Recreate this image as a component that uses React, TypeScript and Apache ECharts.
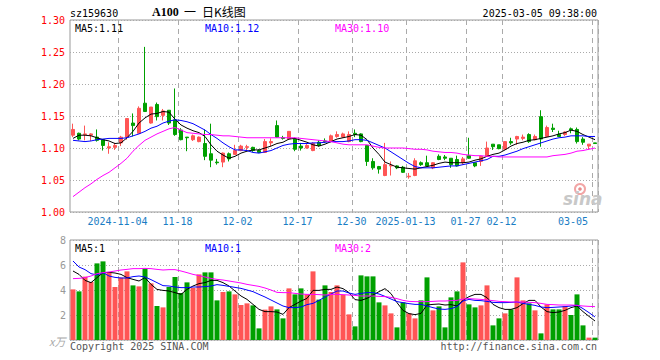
import React, { useEffect, useRef } from 'react';
import * as echarts from 'echarts';

const dates = [
  '2024-10-23','2024-10-24','2024-10-25','2024-10-28','2024-10-29','2024-10-30','2024-10-31','2024-11-01',
  '2024-11-04','2024-11-05','2024-11-06','2024-11-07','2024-11-08','2024-11-11','2024-11-12','2024-11-13','2024-11-14','2024-11-15',
  '2024-11-18','2024-11-19','2024-11-20','2024-11-21','2024-11-22','2024-11-25','2024-11-26','2024-11-27','2024-11-28','2024-11-29',
  '2024-12-02','2024-12-03','2024-12-04','2024-12-05','2024-12-06','2024-12-09','2024-12-10','2024-12-11','2024-12-12','2024-12-13',
  '2024-12-17','2024-12-18','2024-12-19','2024-12-20','2024-12-23','2024-12-24','2024-12-25','2024-12-26','2024-12-27',
  '2024-12-30','2024-12-31','2025-01-02','2025-01-03','2025-01-06','2025-01-07','2025-01-08','2025-01-09','2025-01-10',
  '2025-01-13','2025-01-14','2025-01-15','2025-01-16','2025-01-17','2025-01-20','2025-01-21','2025-01-22','2025-01-23','2025-01-24',
  '2025-01-27','2025-02-05','2025-02-06','2025-02-07','2025-02-10','2025-02-11',
  '2025-02-12','2025-02-13','2025-02-14','2025-02-17','2025-02-18','2025-02-19','2025-02-20','2025-02-21','2025-02-24','2025-02-25',
  '2025-02-26','2025-02-27','2025-02-28','2025-03-03','2025-03-04','2025-03-05'
];

const opens = [
  1.120,1.123,1.121,1.120,1.117,1.113,1.100,1.101,1.108,1.117,
  1.139,1.123,1.170,1.139,1.168,1.151,1.159,1.144,1.128,1.117,
  1.113,1.110,1.107,1.091,1.078,1.078,1.091,1.090,1.096,1.101,
  1.101,1.096,1.093,1.108,1.135,1.116,1.114,1.114,1.103,1.100,
  1.096,1.109,1.111,1.110,1.118,1.117,1.110,1.123,1.122,1.104,
  1.079,1.071,1.057,1.072,1.072,1.070,1.055,1.057,1.077,1.077,
  1.069,1.087,1.086,1.084,1.082,1.077,1.088,1.077,1.079,1.087,
  1.106,1.105,1.098,1.110,1.114,1.115,1.121,1.113,1.149,1.118,
  1.131,1.121,1.121,1.130,1.129,1.114,1.103,1.108
];
const closes = [
  1.129,1.114,1.122,1.122,1.112,1.104,1.102,1.104,1.117,1.146,
  1.135,1.162,1.157,1.164,1.149,1.158,1.139,1.121,1.113,1.116,
  1.119,1.117,1.087,1.081,1.077,1.092,1.083,1.096,1.103,1.102,
  1.096,1.093,1.110,1.110,1.117,1.115,1.126,1.098,1.100,1.104,
  1.107,1.104,1.110,1.119,1.121,1.122,1.121,1.121,1.110,1.079,
  1.069,1.067,1.074,1.073,1.069,1.062,1.056,1.080,1.074,1.072,
  1.077,1.082,1.084,1.074,1.072,1.083,1.084,1.072,1.087,1.100,
  1.102,1.099,1.110,1.108,1.118,1.117,1.110,1.118,1.114,1.132,
  1.129,1.118,1.125,1.128,1.110,1.109,1.106,1.107
];
const lows = [
  1.117,1.112,1.112,1.111,1.110,1.096,1.091,1.097,1.103,1.113,
  1.118,1.123,1.157,1.138,1.143,1.143,1.136,1.119,1.112,1.095,
  1.111,1.109,1.081,1.070,1.074,1.070,1.079,1.090,1.095,1.096,
  1.094,1.092,1.093,1.103,1.116,1.113,1.113,1.095,1.096,1.099,
  1.095,1.102,1.108,1.109,1.116,1.116,1.109,1.117,1.109,1.072,
  1.066,1.060,1.056,1.057,1.067,1.061,1.052,1.056,1.072,1.072,
  1.067,1.081,1.081,1.069,1.071,1.074,1.083,1.070,1.072,1.087,
  1.097,1.098,1.097,1.105,1.105,1.112,1.108,1.112,1.102,1.117,
  1.125,1.117,1.119,1.123,1.107,1.105,1.098,1.107
];
const highs = [
  1.138,1.124,1.135,1.123,1.129,1.113,1.109,1.108,1.119,1.146,
  1.154,1.165,1.258,1.164,1.171,1.161,1.159,1.193,1.131,1.117,
  1.121,1.118,1.129,1.138,1.083,1.093,1.093,1.105,1.105,1.105,
  1.102,1.098,1.114,1.115,1.143,1.119,1.126,1.116,1.108,1.106,
  1.109,1.112,1.115,1.121,1.126,1.124,1.126,1.129,1.123,1.104,
  1.084,1.072,1.108,1.079,1.073,1.072,1.061,1.084,1.079,1.088,
  1.078,1.090,1.089,1.084,1.088,1.086,1.116,1.078,1.088,1.110,
  1.106,1.105,1.110,1.116,1.119,1.121,1.123,1.121,1.159,1.135,
  1.138,1.127,1.126,1.132,1.132,1.117,1.106,1.108
];

const ma5 = [
  1.115,1.120,1.120,1.119,1.116,1.113,1.111,1.107,1.108,1.116,
  1.126,1.139,1.147,1.153,1.154,1.157,1.156,1.145,1.136,1.131,
  1.127,1.124,1.118,1.105,1.095,1.089,1.084,1.087,1.092,1.095,
  1.097,1.097,1.100,1.103,1.107,1.109,1.114,1.115,1.112,1.109,
  1.105,1.103,1.106,1.110,1.114,1.116,1.118,1.121,1.120,1.113,
  1.100,1.090,1.078,1.074,1.070,1.069,1.068,1.067,1.069,1.071,
  1.073,1.076,1.078,1.077,1.077,1.077,1.078,1.081,1.083,1.087,
  1.090,1.092,1.097,1.103,1.107,1.109,1.112,1.113,1.115,1.117,
  1.119,1.122,1.124,1.128,1.126,1.121,1.117,1.113
];
const ma10 = [
  1.112,1.111,1.110,1.111,1.113,1.114,1.115,1.115,1.115,1.116,
  1.119,1.122,1.126,1.131,1.134,1.139,1.142,1.144,1.143,1.141,
  1.138,1.133,1.128,1.121,1.115,1.108,1.102,1.097,1.097,1.096,
  1.093,1.092,1.094,1.096,1.100,1.104,1.106,1.107,1.107,1.107,
  1.108,1.108,1.109,1.110,1.110,1.110,1.111,1.113,1.113,1.112,
  1.108,1.104,1.100,1.094,1.088,1.082,1.076,1.071,1.069,1.069,
  1.069,1.070,1.071,1.072,1.072,1.074,1.076,1.078,1.080,1.082,
  1.087,1.087,1.089,1.092,1.095,1.099,1.102,1.105,1.108,1.111,
  1.114,1.116,1.117,1.119,1.119,1.119,1.118,1.118
];
const ma30 = [
  1.024,1.031,1.038,1.044,1.051,1.057,1.062,1.069,1.076,1.084,
  1.095,1.104,1.112,1.117,1.122,1.126,1.130,1.132,1.128,1.124,
  1.123,1.122,1.121,1.121,1.120,1.119,1.119,1.118,1.117,1.116,
  1.116,1.116,1.116,1.116,1.116,1.116,1.116,1.116,1.115,1.114,
  1.113,1.112,1.111,1.110,1.108,1.106,1.105,1.105,1.105,1.105,
  1.103,1.101,1.100,1.100,1.100,1.100,1.099,1.098,1.098,1.097,
  1.095,1.094,1.093,1.093,1.092,1.090,1.089,1.088,1.088,1.087,
  1.087,1.086,1.086,1.086,1.086,1.086,1.086,1.086,1.086,1.086,
  1.088,1.089,1.090,1.092,1.095,1.096,1.098,1.100
];

const volumes = [
  4.05,3.89,5.07,4.64,6.13,6.29,5.44,4.24,4.99,5.49,
  4.37,4.29,5.71,4.53,2.72,2.61,4.24,5.04,3.76,4.61,
  4.16,5.25,5.41,5.41,3.17,3.84,3.89,3.65,2.80,2.93,
  2.77,0.93,2.43,2.69,2.45,1.73,4.13,3.65,4.13,3.65,
  5.49,3.23,4.37,3.84,4.37,3.60,2.05,1.09,5.17,5.09,
  5.09,3.01,2.77,2.13,1.01,3.01,2.13,1.73,3.17,5.01,
  2.37,2.69,1.01,3.41,3.89,6.21,2.85,2.61,2.77,4.37,
  1.17,1.73,2.13,2.45,5.01,3.17,2.93,2.37,0.53,2.85,
  2.45,2.45,2.72,2.00,3.65,1.17,0.19,0.19
];
const volMa5 = [
  5.52,5.25,4.77,4.59,4.99,5.39,5.41,5.36,5.25,4.99,
  4.85,4.72,4.99,4.45,4.05,3.97,3.92,3.79,3.65,4.05,
  4.32,4.51,4.59,4.77,4.77,4.59,4.32,3.92,3.52,3.25,
  2.85,2.45,2.27,2.27,2.24,2.05,2.59,2.85,3.12,3.33,
  3.97,3.97,4.05,4.05,4.24,4.11,3.79,3.23,3.17,3.33,
  3.60,3.87,4.11,3.71,2.99,2.37,2.11,2.03,2.13,2.80,
  2.85,2.88,2.80,2.83,2.72,3.17,3.47,3.65,3.65,3.39,
  2.85,2.59,2.45,2.45,2.59,2.91,3.17,3.17,2.64,2.27,
  2.19,2.24,2.37,2.59,2.72,2.27,1.89,1.52
];
const volMa10 = [
  6.32,5.84,5.63,5.31,5.20,5.39,5.12,5.01,4.96,4.96,
  5.07,5.12,5.04,4.83,4.59,4.35,4.32,4.24,4.19,4.19,
  4.24,4.24,4.27,4.32,4.43,4.37,4.29,4.21,4.13,4.00,
  3.87,3.65,3.44,3.20,2.96,2.72,2.59,2.59,2.64,2.83,
  2.93,3.17,3.44,3.68,3.92,3.92,3.76,3.65,3.73,3.79,
  3.79,3.68,3.49,3.28,3.07,2.99,2.91,2.85,2.85,2.72,
  2.59,2.48,2.45,2.51,2.67,3.12,3.25,3.17,3.15,3.09,
  3.01,2.99,2.99,3.01,3.04,2.93,2.85,2.77,2.64,2.59,
  2.61,2.64,2.67,2.72,2.80,2.51,2.19,1.84
];
const volMa30 = [
  4.91,4.93,4.99,5.12,5.31,5.39,5.44,5.52,5.60,5.65,
  5.71,5.71,5.73,5.71,5.65,5.60,5.63,5.63,5.52,5.39,
  5.25,5.15,5.04,4.93,4.85,4.80,4.72,4.64,4.56,4.45,
  4.37,4.29,4.16,4.00,3.81,3.79,3.79,3.73,3.68,3.65,
  3.65,3.63,3.60,3.65,3.65,3.63,3.60,3.57,3.52,3.52,
  3.52,3.49,3.47,3.41,3.31,3.17,3.09,3.07,3.07,3.07,
  3.09,3.12,3.12,3.15,3.17,3.28,3.31,3.28,3.25,3.20,
  3.15,3.09,3.07,3.04,3.04,3.04,3.01,2.99,2.93,2.85,
  2.83,2.80,2.80,2.80,2.77,2.72,2.69,2.67
];

const tickDates = ['2024-11-04','2024-11-18','2024-12-02','2024-12-17','2024-12-30','2025-01-13','2025-01-27','2025-02-12','2025-03-05'];
const tickTexts = ['2024-11-04','11-18','12-02','12-17','12-30','2025-01-13','01-27','02-12','03-05'];

const priceMin = 1.0;
const priceMax = 1.3;
const priceStep = 0.05;
const volMin = 0;
const volMax = 8;
const volStep = 2;

export default function App() {
  const ref = useRef<HTMLDivElement>(null);
  useEffect(() => {
    if (!ref.current) return;
    const chart = echarts.init(ref.current, null, { renderer: 'svg' });
    const mono = '"DejaVu Sans Mono", "Liberation Mono", monospace';
    const UP = '#ff5555';
    const DOWN = '#00a000';
    const isTick = (i: number) => tickDates.indexOf(dates[i]) >= 0;
    const candles = dates.map((_, i) => [opens[i], closes[i], lows[i], highs[i]]);
    const volData = volumes.map((v, i) => ({
      value: v,
      itemStyle: { color: closes[i] >= opens[i] ? UP : DOWN },
    }));
    const vSplit = {
      show: true,
      interval: (i: number) => isTick(i),
      lineStyle: { color: '#aaaaaa', width: 1, type: [5, 4] as any },
    };
    const hSplit = {
      show: true,
      lineStyle: { color: '#aaaaaa', width: 1, type: [1, 2] as any },
    };
    const line = (data: number[], color: string, xi: number) => ({
      type: 'line',
      data,
      xAxisIndex: xi,
      yAxisIndex: xi,
      symbol: 'none',
      silent: true,
      lineStyle: { width: 1, color },
      itemStyle: { color },
      z: 5,
    });
    const txt = (text: string, x: number, y: number, fill: string, extra: any = {}) => ({
      type: 'text',
      x,
      y,
      silent: true,
      style: { text, fill, font: `10px ${mono}`, textVerticalAlign: 'top', ...extra },
      z: 10,
    });

    chart.setOption({
      animation: false,
      backgroundColor: '#ffffff',
      grid: [
        { left: 70, top: 20, width: 528, height: 192, show: true, borderColor: '#999999', borderWidth: 1, backgroundColor: 'transparent', outerBoundsMode: 'none' },
        { left: 70, top: 240, width: 528, height: 100, show: true, borderColor: '#999999', borderWidth: 1, backgroundColor: 'transparent', outerBoundsMode: 'none' },
      ],
      xAxis: [
        {
          type: 'category', gridIndex: 0, data: dates, boundaryGap: true,
          axisLine: { show: false }, axisTick: { show: false },
          axisLabel: {
            interval: (i: number) => isTick(i),
            formatter: (v: string) => { const k = tickDates.indexOf(v); return k >= 0 ? tickTexts[k] : ''; },
            color: '#1a7dc4', fontFamily: mono, fontSize: 10, margin: 4,
            padding: [0, 7, 0, 0], alignMaxLabel: 'right',
          },
          splitLine: vSplit,
        },
        {
          type: 'category', gridIndex: 1, data: dates, boundaryGap: true,
          axisLine: { show: false }, axisTick: { show: false }, axisLabel: { show: false },
          splitLine: vSplit,
        },
      ],
      yAxis: [
        {
          type: 'value', gridIndex: 0, min: priceMin, max: priceMax, interval: priceStep,
          axisLine: { show: false }, axisTick: { show: false },
          axisLabel: { color: '#ff0000', fontFamily: mono, fontSize: 10, margin: 5, formatter: (v: number) => v.toFixed(2) },
          splitLine: hSplit,
        },
        {
          type: 'value', gridIndex: 1, min: volMin, max: volMax, interval: volStep,
          axisLine: { show: false }, axisTick: { show: false },
          axisLabel: { color: '#999999', fontFamily: mono, fontSize: 10, margin: 4, formatter: (v: number) => (v === 0 ? '' : String(v)) },
          splitLine: hSplit,
        },
      ],
      series: [
        {
          type: 'candlestick', xAxisIndex: 0, yAxisIndex: 0, data: candles, barWidth: 4, silent: true,
          itemStyle: { color: UP, color0: DOWN, borderColor: UP, borderColor0: DOWN, borderWidth: 1 },
        },
        line(ma5, '#000000', 0),
        line(ma10, '#0000ff', 0),
        line(ma30, '#ff00ff', 0),
        { type: 'bar', xAxisIndex: 1, yAxisIndex: 1, data: volData, barWidth: 5, silent: true },
        line(volMa5, '#000000', 1),
        line(volMa10, '#0000ff', 1),
        line(volMa30, '#ff00ff', 1),
      ],
      graphic: [
        txt('sz159630', 70, 8, '#000000'),
        txt('A100', 152, 6, '#000000', { font: 'bold 12px "Liberation Serif", serif' }),
        txt('一', 184, 5, '#000000', { font: '12px "Noto Sans CJK SC", sans-serif' }),
        txt('日K线图', 202, 5, '#000000', { font: '12px "Noto Sans CJK SC", sans-serif' }),
        txt('2025-03-05 09:38:00', 597, 8, '#000000', { textAlign: 'right' }),
        txt('MA5:1.11', 75, 23, '#000000'),
        txt('MA10:1.12', 205, 23, '#0000ff'),
        txt('MA30:1.10', 335, 23, '#ff00ff'),
        txt('MA5:1', 75, 243, '#000000'),
        txt('MA10:1', 205, 243, '#0000ff'),
        txt('MA30:2', 335, 243, '#ff00ff'),
        txt('x万', 49, 335, '#aaaaaa', { font: 'italic 11px "Noto Sans CJK SC", serif' }),
        txt('Copyright 2025 SINA.COM', 70, 341, '#555555'),
        txt('http://finance.sina.com.cn', 597, 341, '#555555', { textAlign: 'right' }),
        { type: 'circle', shape: { cx: 580, cy: 189, r: 5 }, silent: true, style: { fill: 'none', stroke: '#f2a5a5', lineWidth: 2 }, z: 1 },
        { type: 'circle', shape: { cx: 580, cy: 189, r: 1.8 }, silent: true, style: { fill: '#e88c8c' }, z: 1 },
        txt('sina', 563, 190, '#c8c8c8', { font: 'italic bold 17px "DejaVu Sans", sans-serif' }),
      ],
    });
    return () => chart.dispose();
  }, []);
  return <div ref={ref} style={{ position: 'absolute', left: 0, top: 0, width: 660, height: 360 }} />;
}
